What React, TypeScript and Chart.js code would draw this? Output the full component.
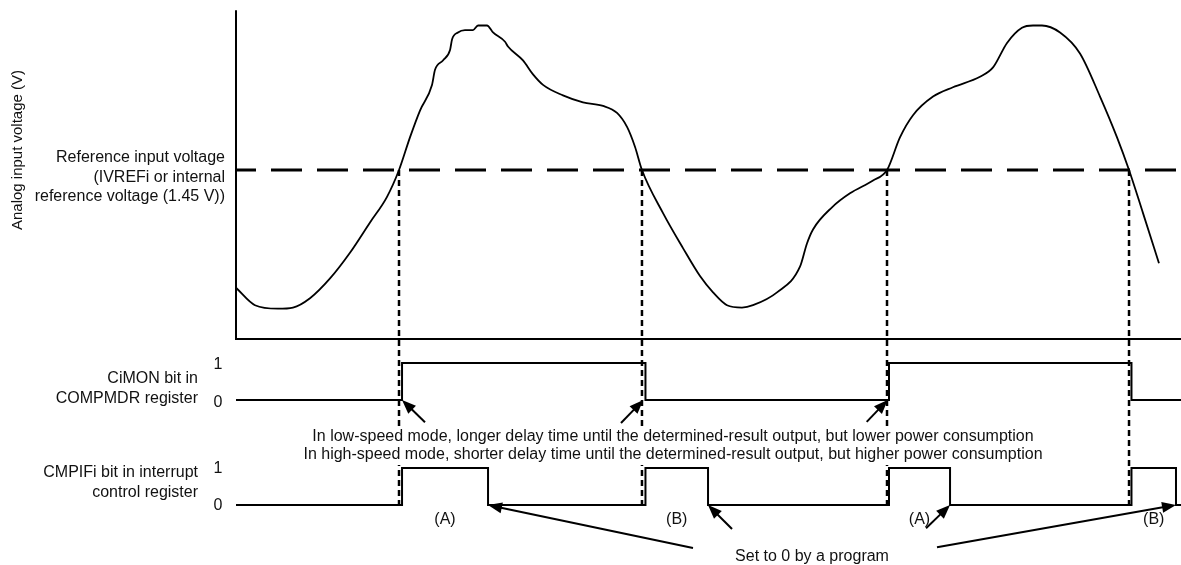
import { useEffect, useRef } from 'react';
import { Chart, registerables } from 'chart.js';

Chart.register(...registerables);

// ---- Data (time axis 0..100, analog voltage in V, logic levels 0/1) ----
const CURVE_T = [0, 2.01, 4.44, 6.03, 7.83, 9.95, 12.06, 14.18, 15.98, 17.25, 18.41, 19.47, 20.74, 21.06, 21.9, 22.65, 22.86, 23.49, 24.23, 25.08, 25.61, 26.56, 27.2, 28.47, 28.78, 30.37, 31.43, 32.49, 34.6, 36.72, 38.84, 40.32, 41.38, 42.22, 42.96, 45.19, 47.3, 49.1, 50.48, 51.96, 53.54, 54.71, 57.25, 59.68, 60.42, 61.06, 63.07, 64.97, 67.41, 68.89, 70.26, 71.64, 73.76, 75.87, 78.73, 80.11, 81.59, 83.17, 84.34, 85.29, 87.2, 89.31, 91.43, 93.23, 94.5, 95.98, 97.67];
const CURVE_V = [0.44, 0.29, 0.26, 0.27, 0.35, 0.52, 0.74, 1.0, 1.22, 1.45, 1.73, 1.96, 2.18, 2.31, 2.39, 2.48, 2.57, 2.63, 2.65, 2.65, 2.69, 2.69, 2.63, 2.55, 2.51, 2.39, 2.27, 2.18, 2.09, 2.03, 2.0, 1.94, 1.82, 1.65, 1.45, 1.08, 0.78, 0.54, 0.4, 0.29, 0.27, 0.29, 0.4, 0.62, 0.82, 0.94, 1.13, 1.25, 1.36, 1.45, 1.73, 1.92, 2.08, 2.16, 2.25, 2.33, 2.54, 2.67, 2.69, 2.69, 2.63, 2.45, 2.08, 1.73, 1.45, 1.08, 0.65];

const REF_V = 1.45;
const V_TOP = 2.82;
const T_MAX = 100;

const CROSS_T = [17.25, 42.96, 68.89, 94.5];
const CIMON_EDGES = [17.57, 43.33, 69.1, 94.76];
const CMPIF_RISE = [17.57, 43.33, 69.1, 94.76];
const CMPIF_FALL = [26.67, 49.95, 75.56, 99.47];
const PULSE_LABELS = ['(A)', '(B)', '(A)', '(B)'];

// arrows: [axis, tailT, tailLevel, headT, headLevel]
const ARROWS: [string, number, number, number, number][] = [
  ['yC', 20.0, -0.6, 17.57, 0],
  ['yC', 40.74, -0.62, 43.1, 0],
  ['yC', 66.74, -0.59, 68.96, 0],
  ['yI', 48.36, -1.16, 26.67, 0],
  ['yI', 52.49, -0.65, 49.95, 0],
  ['yI', 73.02, -0.63, 75.56, 0],
  ['yI', 74.18, -1.14, 99.47, 0],
];

const TEXT_REF = ['Reference input voltage', '(IVREFi or internal', 'reference voltage (1.45 V))'];
const TEXT_CIMON = ['CiMON bit in', 'COMPMDR register'];
const TEXT_CMPIF = ['CMPIFi bit in interrupt', 'control register'];
const TEXT_NOTE = [
  'In low-speed mode, longer delay time until the determined-result output, but lower power consumption',
  'In high-speed mode, shorter delay time until the determined-result output, but higher power consumption',
];
const TEXT_Y = 'Analog input voltage (V)';
const TEXT_SET0 = 'Set to 0 by a program';

const FONT = '"Liberation Sans", Arial, sans-serif';

function rangeFor(vA: number, pA: number, vB: number, pB: number, H: number) {
  const s = (pA - pB) / (vB - vA);
  const min = vA - (H - pA) / s;
  return { min, max: min + H / s };
}

function stepPoints(edges: number[]) {
  const pts: { x: number; y: number }[] = [{ x: 0, y: 0 }];
  let lvl = 0;
  for (const e of edges) {
    pts.push({ x: e, y: lvl });
    lvl = 1 - lvl;
    pts.push({ x: e, y: lvl });
  }
  pts.push({ x: T_MAX, y: lvl });
  return pts;
}

function pulsePoints(rise: number[], fall: number[]) {
  const edges: number[] = [];
  rise.forEach((r, i) => { edges.push(r, fall[i]); });
  return stepPoints(edges);
}

function drawArrow(ctx: CanvasRenderingContext2D, x1: number, y1: number, x2: number, y2: number) {
  const ang = Math.atan2(y2 - y1, x2 - x1);
  const len = 14, hw = 5.5;
  const bx = x2 - len * Math.cos(ang), by = y2 - len * Math.sin(ang);
  ctx.beginPath();
  ctx.moveTo(x1, y1);
  ctx.lineTo(bx + 2 * Math.cos(ang), by + 2 * Math.sin(ang));
  ctx.lineWidth = 2;
  ctx.setLineDash([]);
  ctx.stroke();
  ctx.beginPath();
  ctx.moveTo(x2, y2);
  ctx.lineTo(bx + hw * Math.sin(ang), by - hw * Math.cos(ang));
  ctx.lineTo(bx - hw * Math.sin(ang), by + hw * Math.cos(ang));
  ctx.closePath();
  ctx.fill();
}

const overlay = {
  id: 'overlay',
  beforeDatasetsDraw(chart: any) {
    const { ctx, scales } = chart;
    ctx.save();
    ctx.strokeStyle = '#000';
    ctx.lineWidth = 2.5;
    ctx.setLineDash([6, 4]);
    for (const t of CROSS_T) {
      const x = scales.x.getPixelForValue(t);
      ctx.beginPath();
      ctx.moveTo(x, scales.yV.getPixelForValue(REF_V));
      ctx.lineTo(x, scales.yI.getPixelForValue(0));
      ctx.stroke();
    }
    ctx.restore();
  },
  afterDatasetsDraw(chart: any) {
    const { ctx, scales } = chart;
    const xs = scales.x;
    ctx.save();
    ctx.fillStyle = '#000';
    ctx.strokeStyle = '#000';
    for (const [ax, tt, tl, ht, hl] of ARROWS) {
      const ys = scales[ax];
      drawArrow(ctx, xs.getPixelForValue(tt), ys.getPixelForValue(tl), xs.getPixelForValue(ht), ys.getPixelForValue(hl));
    }
    ctx.font = `16px ${FONT}`;
    ctx.textBaseline = 'middle';

    // note block with white background (interrupts dotted lines)
    ctx.textAlign = 'center';
    TEXT_NOTE.forEach((s, i) => {
      const w = ctx.measureText(s).width;
      ctx.fillStyle = '#fff';
      ctx.fillRect(673 - w / 2 - 2, 428 + i * 18, w + 4, 19);
    });
    ctx.fillStyle = '#111';
    TEXT_NOTE.forEach((s, i) => ctx.fillText(s, 673, 437 + i * 18));

    // left labels
    ctx.textAlign = 'right';
    const refY = scales.yV.getPixelForValue(REF_V);
    TEXT_REF.forEach((s, i) => ctx.fillText(s, 225, refY - 12 + i * 19.5));
    const cY0 = scales.yC.getPixelForValue(0);
    TEXT_CIMON.forEach((s, i) => ctx.fillText(s, 198, cY0 - 21 + i * 19.5));
    const iY0 = scales.yI.getPixelForValue(0);
    TEXT_CMPIF.forEach((s, i) => ctx.fillText(s, 198, iY0 - 32 + i * 19.5));

    ctx.textAlign = 'center';
    ctx.fillText('1', 218, scales.yC.getPixelForValue(1) + 2);
    ctx.fillText('0', 218, cY0 + 2.5);
    ctx.fillText('1', 218, scales.yI.getPixelForValue(1) + 0.5);
    ctx.fillText('0', 218, iY0 + 1);

    // pulse labels
    PULSE_LABELS.forEach((s, i) => {
      const x = xs.getPixelForValue((CMPIF_RISE[i] + CMPIF_FALL[i]) / 2);
      ctx.fillText(s, x, iY0 + 15);
    });
    ctx.fillText(TEXT_SET0, 812, 557);

    // rotated axis title
    ctx.save();
    ctx.font = `15px ${FONT}`;
    ctx.translate(18, 150);
    ctx.rotate(-Math.PI / 2);
    ctx.fillText(TEXT_Y, 0, 0);
    ctx.restore();
    ctx.restore();
  },
};

export default function App() {
  const ref = useRef<HTMLCanvasElement>(null);
  useEffect(() => {
    document.body.style.margin = '0';
    const H = 565;
    const base = { pointRadius: 0, borderColor: '#000', clip: false as any, fill: false };
    const chart = new Chart(ref.current!, {
      type: 'line',
      data: {
        datasets: [
          {
            ...base,
            data: CURVE_T.map((t, i) => ({ x: t, y: CURVE_V[i] })),
            yAxisID: 'yV',
            borderWidth: 1.8,
            cubicInterpolationMode: 'monotone',
          },
          {
            ...base,
            data: [{ x: 0, y: REF_V }, { x: T_MAX, y: REF_V }],
            yAxisID: 'yV',
            borderWidth: 3,
            borderDash: [31, 15],
            borderDashOffset: 11,
          },
          {
            ...base,
            data: [{ x: 0, y: V_TOP }, { x: 0, y: 0 }, { x: T_MAX, y: 0 }],
            yAxisID: 'yV',
            borderWidth: 2,
          },
          {
            ...base,
            data: stepPoints(CIMON_EDGES),
            yAxisID: 'yC',
            borderWidth: 2,
          },
          {
            ...base,
            data: pulsePoints(CMPIF_RISE, CMPIF_FALL),
            yAxisID: 'yI',
            borderWidth: 2,
          },
        ] as any,
      },
      options: {
        animation: false,
        responsive: false,
        devicePixelRatio: 1,
        events: [],
        layout: { padding: { left: 236, right: 0, top: 0, bottom: 0 } },
        plugins: { legend: { display: false }, tooltip: { enabled: false } },
        scales: {
          x: { type: 'linear', min: 0, max: T_MAX, display: false },
          yV: { type: 'linear', display: false, ...rangeFor(0, 339, REF_V, 170, H) },
          yC: { type: 'linear', display: false, ...rangeFor(0, 400, 1, 363, H) },
          yI: { type: 'linear', display: false, ...rangeFor(0, 505, 1, 468, H) },
        },
      },
      plugins: [overlay],
    });
    return () => chart.destroy();
  }, []);
  return (
    <div style={{ width: 1181, height: 565 }}>
      <canvas ref={ref} width={1181} height={565} style={{ display: 'block' }} />
    </div>
  );
}
